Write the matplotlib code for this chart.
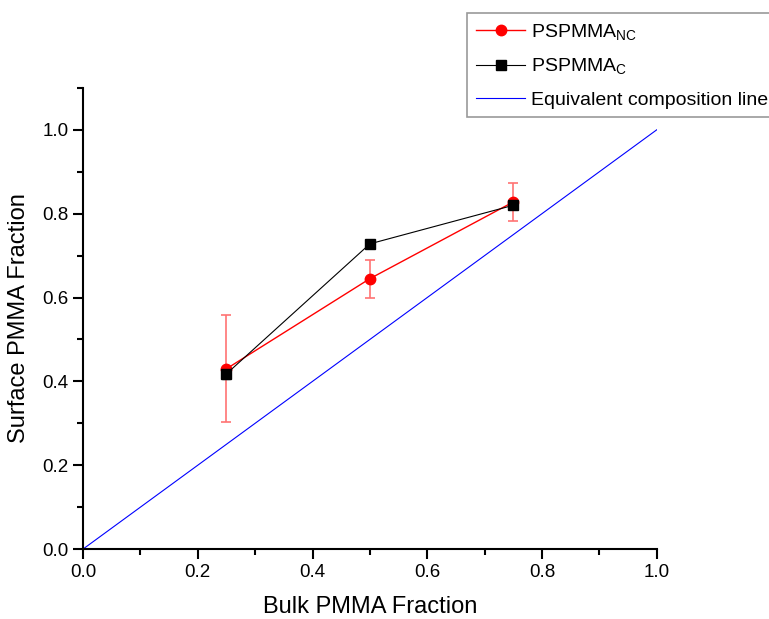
import numpy as np
import matplotlib
matplotlib.use("Agg")
import matplotlib.pyplot as plt
from matplotlib.ticker import MultipleLocator

plt.rcParams['font.family'] = ['Liberation Sans', 'DejaVu Sans']
plt.rcParams['mathtext.fontset'] = 'custom'
plt.rcParams['mathtext.rm'] = 'Liberation Sans'
plt.rcParams['mathtext.it'] = 'Liberation Sans'

#
# data
# ---------------------------
#
bulk = [0.25, 0.50, 0.75]
surf_nc = [0.430, 0.645, 0.828]
err_nc = [0.128, 0.045, 0.046]
surf_c = [0.418, 0.728, 0.820]
err_c = [0.012, 0.010, 0.010]
equiv_x = [0.0, 1.0]
equiv_y = [0.0, 1.0]

#
# graphics
# --------
#
fig = plt.figure(figsize=(7.69, 6.19), dpi=100)
ax = fig.add_axes([0.108, 0.113, 0.746, 0.745])

ax.errorbar(bulk, surf_nc, yerr=err_nc, fmt='none', ecolor=(1, 0.45, 0.45),
            elinewidth=1.2, capsize=3.6, capthick=1.2, zorder=2)
ax.errorbar(bulk, surf_c, yerr=err_c, fmt='none', ecolor='dimgray',
            elinewidth=1, capsize=3, zorder=2)
l_nc, = ax.plot(bulk, surf_nc, color='red', lw=1, marker='o', ms=7.5,
                label=r'$\mathrm{PSPMMA}_{\mathrm{NC}}$', zorder=3)
l_c, = ax.plot(bulk, surf_c, color='black', lw=0.8, marker='s', ms=6.5,
               label=r'$\mathrm{PSPMMA}_{\mathrm{C}}$', zorder=4)
l_eq, = ax.plot(equiv_x, equiv_y, color='blue', lw=0.8,
                label='Equivalent composition line')

ax.set_xlim(0, 1.0)
ax.set_ylim(0, 1.1)
ax.xaxis.set_major_locator(MultipleLocator(0.2))
ax.xaxis.set_minor_locator(MultipleLocator(0.1))
ax.yaxis.set_major_locator(MultipleLocator(0.2))
ax.yaxis.set_minor_locator(MultipleLocator(0.1))
ax.spines['top'].set_visible(False)
ax.spines['right'].set_visible(False)
for s in ['left', 'bottom']:
    ax.spines[s].set_linewidth(1.5)
ax.tick_params(which='major', direction='out', length=7, width=1.5, labelsize=13.5)
ax.tick_params(which='minor', direction='out', length=4, width=1.5)
ax.set_xlabel('Bulk PMMA Fraction', fontsize=17, labelpad=11)
ax.set_ylabel('Surface PMMA Fraction', fontsize=17, labelpad=9)

leg = fig.legend(handles=[l_nc, l_c, l_eq], loc='upper left',
                 bbox_to_anchor=(467 / 769, 1 - 13 / 619),
                 fontsize=14, handlelength=2.55, handletextpad=0.3,
                 frameon=True, fancybox=False, borderaxespad=0,
                 borderpad=0.45, labelspacing=0.75)
leg.get_frame().set_edgecolor('gray')
leg.get_frame().set_linewidth(1.2)

fig.savefig('out.png', dpi=100)
